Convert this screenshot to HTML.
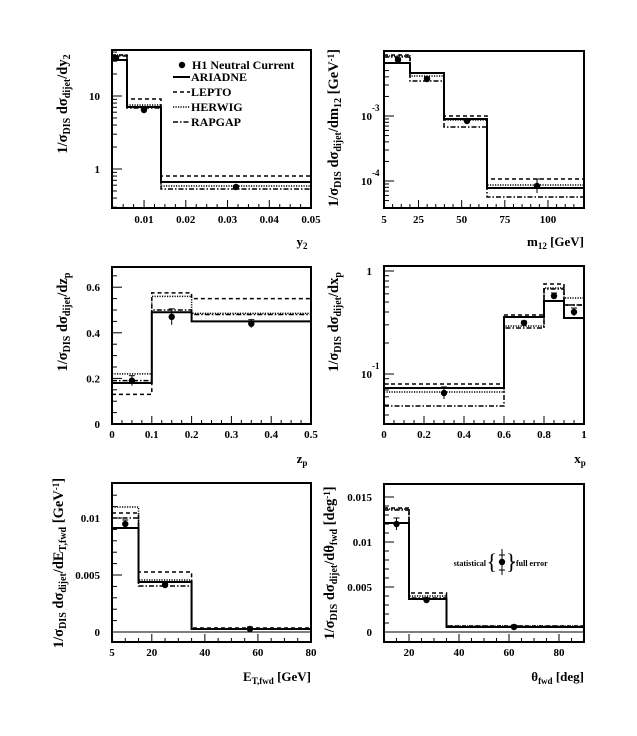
<!DOCTYPE html>
<html><head><meta charset="utf-8"><style>
body{margin:0;background:#fff}
svg{display:block}
text{font-family:"Liberation Serif",serif;font-weight:bold;fill:#000}
</style></head><body>
<svg id="s" width="637" height="736" viewBox="0 0 637 736" xmlns="http://www.w3.org/2000/svg"></svg>
<script>
const S=document.getElementById('s');let h='';
const st={A:'stroke-width="2"',L:'stroke-width="1.5" stroke-dasharray="4,3"',H:'stroke-width="1.5" stroke-dasharray="1.2,1.3"',R:'stroke-width="1.5" stroke-dasharray="5,2,1.5,2"'};
function line(x1,y1,x2,y2,w){h+=`<line x1="${x1}" y1="${y1}" x2="${x2}" y2="${y2}" stroke="#000" stroke-width="${w||1}"/>`;}
function txt(x,y,s,sz,anc,extra){h+=`<text x="${x}" y="${y}" font-size="${sz||11}" text-anchor="${anc||'middle'}" ${extra||''}>${s}</text>`;}
function hist(edges,vals,X,Y,style){let d='';for(let i=0;i<vals.length;i++){const y=Y(vals[i]);const x0=X(edges[i]),x1=X(edges[i+1]);d+=(i==0?`M${x0},${y}`:`L${x0},${y}`)+`L${x1},${y}`;}h+=`<path d="${d}" fill="none" stroke="#000" ${st[style]}/>`;}
function histPx(edgesPx,ys,style){let d='';for(let i=0;i<ys.length;i++){d+=(i==0?`M${edgesPx[i]},${ys[i]}`:`L${edgesPx[i]},${ys[i]}`)+`L${edgesPx[i+1]},${ys[i]}`;}h+=`<path d="${d}" fill="none" stroke="#000" ${st[style]}/>`;}
function pt(x,y,e){line(x,y-e,x,y+e,1);line(x-3,y-e,x+3,y-e,1);h+=`<circle cx="${x}" cy="${y}" r="3.2" fill="#000"/>`;}
function frame(x0,y0,x1,y1){h+=`<rect x="${x0}" y="${y0}" width="${x1-x0}" height="${y1-y0}" fill="none" stroke="#000" stroke-width="2"/>`;}
function xt(x,y1,len){line(x,y1,x,y1-len,1);}
function yt(x0,y,len){line(x0,y,x0+len,y,1);}
function ylab(x,yc,s){h+=`<text x="${x}" y="${yc}" font-size="14.5" text-anchor="middle" transform="rotate(-90 ${x} ${yc})">${s}</text>`;}
const sb=(s)=>`<tspan font-size="10" dy="3">${s}</tspan><tspan dy="-3">`;

// Panel 1: y2
{const x0=112,x1=311,y0=50,y1=208;const X=v=>102.3+(v)*4175;
histPx([112,127,161,311],[55,99,176],'L');histPx([112,127,161,311],[55,105,186],'H');histPx([112,127,161,311],[56,108,189],'R');histPx([112,127,161,311],[60,107,182],'A');
pt(116,58,2);pt(144,110,2);pt(236,187,1.5);
for(let v=0.005;v<=0.0501;v+=0.0025){const x=X(v);if(x>x0&&x<x1)xt(x,y1,(Math.abs(v*100-Math.round(v*100))<1e-6)?8:4);}
[0.01,0.02,0.03,0.04,0.05].forEach(v=>txt(X(v),223,v,11));
const Y=v=>169-73*Math.log10(v);
[0.3,0.4,0.5,0.6,0.7,0.8,0.9,1,2,3,4,5,6,7,8,9,10,20,30,40].forEach(v=>{const y=Y(v);if(y>y0&&y<y1)yt(x0,y,(v==1||v==10)?10:5);});
txt(100,100,'10',11,'end');txt(100,173,'1',11,'end');
frame(x0,y0,x1,y1);
ylab(67,104,'1/σ'+sb('DIS')+' dσ</tspan>'+sb('dijet')+'/dy</tspan>'+sb('2')+'</tspan>');
txt(302,246,'y<tspan font-size="9" dy="3">2</tspan>',13,'middle');
h+=`<circle cx="182" cy="65" r="3.2" fill="#000"/>`;txt(192,69,'H1 Neutral Current',12,'start');
[['A',81,'ARIADNE'],['L',96,'LEPTO'],['H',111,'HERWIG'],['R',126,'RAPGAP']].forEach(a=>{h+=`<line x1="173" y1="${a[1]-4}" x2="190" y2="${a[1]-4}" stroke="#000" ${st[a[0]]}/>`;txt(191,a[1],a[2],12,'start');});
}
// Panel 2: m12
{const x0=384,x1=584,y0=51,y1=208;const X=v=>384+(v-5)*1.726;const E=[384,410,444,487,584];
histPx(E,[55,73,116,179],'L');histPx(E,[56,76,120,185],'H');histPx(E,[57,81,127,197],'R');histPx(E,[63,73,119,188],'A');
pt(398,60,2);pt(427,79,2);pt(467,121,2);pt(537,186,7);
for(let v=10;v<120;v+=5){const x=X(v);xt(x,y1,(v%25==0)?8:4);}
[[5,'5'],[25,'25'],[50,'50'],[75,'75'],[100,'100']].forEach(a=>txt(X(a[0]),223,a[1],11));
const Y=v=>116-65*(Math.log10(v)+3);
[5e-5,6e-5,7e-5,8e-5,9e-5,1e-4,2e-4,3e-4,4e-4,5e-4,6e-4,7e-4,8e-4,9e-4,1e-3,2e-3,3e-3,4e-3,5e-3].forEach(v=>{const y=Y(v);if(y>y0&&y<y1)yt(x0,y,(Math.abs(Math.log10(v)%1)<1e-6)?10:5);});
txt(372,120,'10',11,'end');txt(372,111,'-3',9,'start');txt(372,185,'10',11,'end');txt(372,176,'-4',9,'start');
frame(x0,y0,x1,y1);
ylab(338,128,'1/σ'+sb('DIS')+' dσ</tspan>'+sb('dijet')+'/dm</tspan>'+sb('12')+' [GeV</tspan><tspan font-size="9" dy="-4">-1</tspan><tspan dy="4">]</tspan>');
txt(584,246,'m<tspan font-size="9" dy="3">12</tspan><tspan dy="-3"> [GeV]</tspan>',13,'end');
}
// Panel 3: zp
{const x0=112,x1=311,y0=267,y1=424;const X=v=>112+v*398;const Y=v=>424-v*228;const e=[0,0.1,0.2,0.5];
hist(e,[0.13,0.575,0.55],X,Y,'L');hist(e,[0.22,0.56,0.485],X,Y,'H');hist(e,[0.19,0.50,0.48],X,Y,'R');hist(e,[0.18,0.49,0.45],X,Y,'A');
pt(X(.05),Y(.19),5);pt(X(.15),Y(.47),8);pt(X(.35),Y(.44),4);
for(let v=0.025;v<0.5;v+=0.025){xt(X(v),y1,(Math.abs(v*10-Math.round(v*10))<1e-6)?8:4);}
[0,0.1,0.2,0.3,0.4,0.5].forEach(v=>txt(X(v),438,v,11));
for(let v=0.05;v<0.7;v+=0.05){const y=Y(v);if(y>y0)yt(x0,y,(Math.abs(v*5-Math.round(v*5))<1e-6)?10:5);}
[0,0.2,0.4,0.6].forEach(v=>txt(100,Y(v)+4,v,11,'end'));
frame(x0,y0,x1,y1);
ylab(67,322,'1/σ'+sb('DIS')+' dσ</tspan>'+sb('dijet')+'/dz</tspan>'+sb('p')+'</tspan>');
txt(302,463,'z<tspan font-size="9" dy="3">p</tspan>',13,'middle');
}
// Panel 4: xp
{const x0=384,x1=584,y0=266,y1=424;const X=v=>384+v*200;const E=[0,0.6,0.8,0.9,1].map(X);
histPx(E,[384,315,284,305],'L');histPx(E,[392,326,288,298],'H');histPx(E,[406,328,289,305],'R');histPx(E,[388,317,301,318],'A');
pt(X(.3),393,6);pt(X(.7),323,2);pt(X(.85),296,3);pt(X(.95),312,4);
for(let v=0.05;v<1;v+=0.05){xt(X(v),y1,(Math.abs(v*5-Math.round(v*5))<1e-6)?8:4);}
[0,0.2,0.4,0.6,0.8,1].forEach(v=>txt(X(v),438,v,11));
const Y=v=>374-103*(Math.log10(v)+1);
[0.04,0.05,0.06,0.07,0.08,0.09,0.1,0.2,0.3,0.4,0.5,0.6,0.7,0.8,0.9,1].forEach(v=>{const y=Y(v);if(y>y0-1&&y<y1)yt(x0,y,(v==0.1||v==1)?10:5);});
txt(372,275,'1',11,'end');txt(372,378,'10',11,'end');txt(372,369,'-1',9,'start');
frame(x0,y0,x1,y1);
ylab(338,322,'1/σ'+sb('DIS')+' dσ</tspan>'+sb('dijet')+'/dx</tspan>'+sb('p')+'</tspan>');
txt(580,463,'x<tspan font-size="9" dy="3">p</tspan>',13,'middle');
}
// Panel 5: ET
{const x0=112,x1=311,y0=483,y1=642;const X=v=>112+(v-5)*2.653;const Y=v=>632-v*11400;const E=[5,15,35,80].map(X);
histPx(E,[513,572,628],'L');histPx(E,[507,580,629],'H');histPx(E,[518,586,629],'R');histPx(E,[528,582,629],'A');
pt(X(10),524,4);pt(X(25),585,2);pt(X(57),629,2);
line(x0,632,x1,632,1);
for(let v=10;v<80;v+=5){xt(X(v),y1,(v%20==0)?8:4);}
[[5,'5'],[20,'20'],[40,'40'],[60,'60'],[80,'80']].forEach(a=>txt(X(a[0]),656,a[1],11));
for(let v=0.001;v<0.013;v+=0.001){yt(x0,Y(v),(Math.abs(v*200-Math.round(v*200))<1e-6)?10:5);}
txt(100,636,'0',11,'end');txt(100,Y(0.005)+4,'0.005',11,'end');txt(100,Y(0.01)+4,'0.01',11,'end');
frame(x0,y0,x1,y1);
ylab(63,563,'1/σ'+sb('DIS')+' dσ</tspan>'+sb('dijet')+'/dE</tspan>'+sb('T,fwd')+' [GeV</tspan><tspan font-size="9" dy="-4">-1</tspan><tspan dy="4">]</tspan>');
txt(311,681,'E<tspan font-size="9" dy="3">T,fwd</tspan><tspan dy="-3"> [GeV]</tspan>',13,'end');
}
// Panel 6: theta
{const x0=384,x1=584,y0=484,y1=642;const X=v=>384+(v-10)*2.5;const Y=v=>632-v*9000;const E=[10,20,35,90].map(X);
histPx(E,[508,593,626],'L');histPx(E,[509,596,626],'H');histPx(E,[510,598,627],'R');histPx(E,[523,599,627],'A');
pt(X(15),524,6);pt(X(27),600,2);pt(X(62),627,2);
line(x0,632,x1,632,1);
for(let v=15;v<90;v+=5){xt(X(v),y1,(v%20==0)?8:4);}
[20,40,60,80].forEach(v=>txt(X(v),656,v,11));
for(let v=0.001;v<0.016;v+=0.001){yt(x0,Y(v),(Math.abs(v*200-Math.round(v*200))<1e-6)?10:5);}
txt(372,636,'0',11,'end');txt(372,Y(0.005)+4,'0.005',11,'end');txt(372,Y(0.01)+4,'0.01',11,'end');txt(372,Y(0.015)+4,'0.015',11,'end');
frame(x0,y0,x1,y1);
ylab(334,563,'1/σ'+sb('DIS')+' dσ</tspan>'+sb('dijet')+'/dθ</tspan>'+sb('fwd')+' [deg</tspan><tspan font-size="9" dy="-4">-1</tspan><tspan dy="4">]</tspan>');
txt(584,681,'θ<tspan font-size="9" dy="3">fwd</tspan><tspan dy="-3"> [deg]</tspan>',13,'end');
txt(486,566,'statistical',8,'end');txt(516,566,'full error',8,'start');
h+=`<text x="497" y="569" font-size="22" text-anchor="end" style="font-weight:normal">{</text>`;
h+=`<text x="506" y="569" font-size="22" text-anchor="start" style="font-weight:normal">}</text>`;
line(512,562,515,562,1);
line(502,549,502,575,1);line(499,555,505,555,1);line(499,570,505,570,1);
h+=`<circle cx="502" cy="562" r="3.2" fill="#000"/>`;
}
S.innerHTML=h;
</script>
</body></html>
